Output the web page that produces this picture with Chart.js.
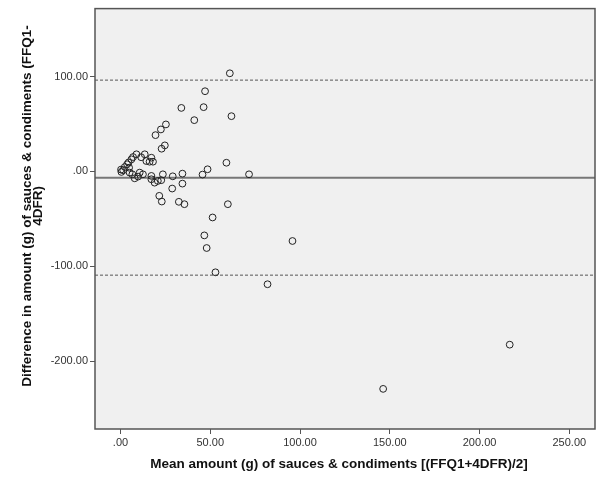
<!DOCTYPE html>
<html>
<head>
<meta charset="utf-8">
<script src="https://cdn.jsdelivr.net/npm/chart.js@4"></script>
<style>
  html, body { margin: 0; padding: 0; background: #fff; }
  #wrap { width: 600px; height: 479px; }
</style>
</head>
<body>
<div id="wrap"><canvas id="myChart"></canvas></div>
<script>
// mean of FFQ1 and 4DFR (x) against their difference (y)
const meanAmount = [
  60.9, 47.1, 33.9, 46.3, 41.1, 61.8, 25.3, 22.5, 19.5, 24.7, 22.9, 59.0,
  48.5, 45.7, 71.6, 34.5, 29.1, 34.5, 28.8, 21.6, 23.0, 32.5, 35.6, 59.8,
  51.3, 46.7, 48.0, 52.9, 81.9, 95.8, 216.8, 146.3,
  8.9, 7.0, 6.1, 13.5, 17.2, 14.4, 16.2, 18.1, 3.7, 2.4, 1.5, 0.5, 4.8,
  5.1, 6.6, 7.9, 9.8, 10.7, 12.5, 17.2, 17.2, 19.0, 20.8, 22.7, 23.6,
  0.3, 11.5, 4.5
];
const diffAmount = [
  103.5, 84.6, 67.0, 67.8, 54.1, 58.3, 49.6, 44.3, 38.3, 27.5, 24.0, 9.2,
  2.3, -3.3, -3.0, -2.3, -5.1, -12.8, -18.0, -25.7, -31.7, -32.0, -34.5, -34.5,
  -48.5, -67.4, -80.7, -106.3, -118.9, -73.3, -182.6, -229.2,
  18.1, 15.2, 12.8, 18.1, 14.5, 11.0, 10.3, 10.3, 7.6, 4.7, 1.3, -0.5, 4.0,
  -1.2, -3.0, -7.2, -5.4, -1.2, -3.0, -4.7, -8.2, -11.8, -10.0, -9.2, -3.0,
  2.0, 15.0, 9.5
];

// mean difference and limits of agreement
const meanDiff = -6.5;
const upperLimit = 96.3;
const lowerLimit = -109.3;

const xRange = [-14.2, 264.3];
const yRange = [-271.5, 171.7];
const xTicks = [0, 50, 100, 150, 200, 250];
const yTicks = [-200, -100, 0, 100];

const xTitle = "Mean amount (g) of sauces & condiments [(FFQ1+4DFR)/2]";
const yTitle = ["Difference in amount (g) of sauces & condiments (FFQ1-", "4DFR)"];

const points = meanAmount.map((x, i) => ({ x: x, y: diffAmount[i] }));
const hline = (v) => [{ x: xRange[0], y: v }, { x: xRange[1], y: v }];

const fmt = (v) => (v === 0 ? ".00" : v.toFixed(2));

// grey plot background, frame and the two axis titles
const plotFrame = {
  id: "plotFrame",
  beforeDatasetsDraw(chart) {
    const { ctx, chartArea: a } = chart;
    ctx.save();
    ctx.fillStyle = "#f0f0f0";
    ctx.fillRect(a.left, a.top, a.right - a.left, a.bottom - a.top);
    ctx.restore();
  },
  afterDraw(chart) {
    const { ctx, chartArea: a } = chart;
    ctx.save();
    ctx.strokeStyle = "#555";
    ctx.lineWidth = 1.5;
    ctx.strokeRect(a.left, a.top, a.right - a.left, a.bottom - a.top);

    ctx.fillStyle = "#111";
    ctx.font = "bold 13.5px 'Liberation Sans', Arial, sans-serif";
    ctx.textAlign = "center";
    ctx.textBaseline = "middle";
    ctx.fillText(xTitle, 339, 464);

    ctx.translate(27, 206);
    ctx.rotate(-Math.PI / 2);
    yTitle.forEach((line, i) => ctx.fillText(line, 0, i * 11.5));
    ctx.restore();
  }
};

const ctx = document.getElementById("myChart");
Chart.defaults.font.family = "'Liberation Sans', Arial, sans-serif";

new Chart(ctx, {
  type: "scatter",
  data: {
    datasets: [
      {
        type: "line",
        data: hline(upperLimit),
        borderColor: "#555",
        borderWidth: 1,
        borderDash: [3, 2],
        pointRadius: 0,
        order: 2
      },
      {
        type: "line",
        data: hline(lowerLimit),
        borderColor: "#555",
        borderWidth: 1,
        borderDash: [3, 2],
        pointRadius: 0,
        order: 2
      },
      {
        type: "line",
        data: hline(meanDiff),
        borderColor: "#777",
        borderWidth: 2,
        pointRadius: 0,
        order: 2
      },
      {
        data: points,
        pointRadius: 3.4,
        pointBorderWidth: 1,
        pointBorderColor: "#222",
        pointBackgroundColor: "rgba(0,0,0,0)",
        order: 1
      }
    ]
  },
  options: {
    responsive: true,
    maintainAspectRatio: false,
    animation: false,
    layout: { padding: { top: 7, right: 2, left: 0, bottom: 0 } },
    plugins: {
      legend: { display: false },
      tooltip: { enabled: false }
    },
    scales: {
      x: {
        type: "linear",
        min: xRange[0],
        max: xRange[1],
        afterBuildTicks: (s) => { s.ticks = xTicks.map((v) => ({ value: v })); },
        afterFit: (s) => { s.height = 50; },
        border: { display: false },
        grid: { drawOnChartArea: false, drawTicks: true, tickLength: 5, color: "#555" },
        ticks: { callback: fmt, color: "#333", font: { size: 11 }, padding: 2, maxRotation: 0 }
      },
      y: {
        type: "linear",
        min: yRange[0],
        max: yRange[1],
        afterBuildTicks: (s) => { s.ticks = yTicks.map((v) => ({ value: v })); },
        afterFit: (s) => { s.width = 95; },
        border: { display: false },
        grid: { drawOnChartArea: false, drawTicks: true, tickLength: 5, color: "#555" },
        ticks: { callback: fmt, color: "#333", font: { size: 11 }, padding: 2 }
      }
    }
  },
  plugins: [plotFrame]
});
</script>
</body>
</html>
